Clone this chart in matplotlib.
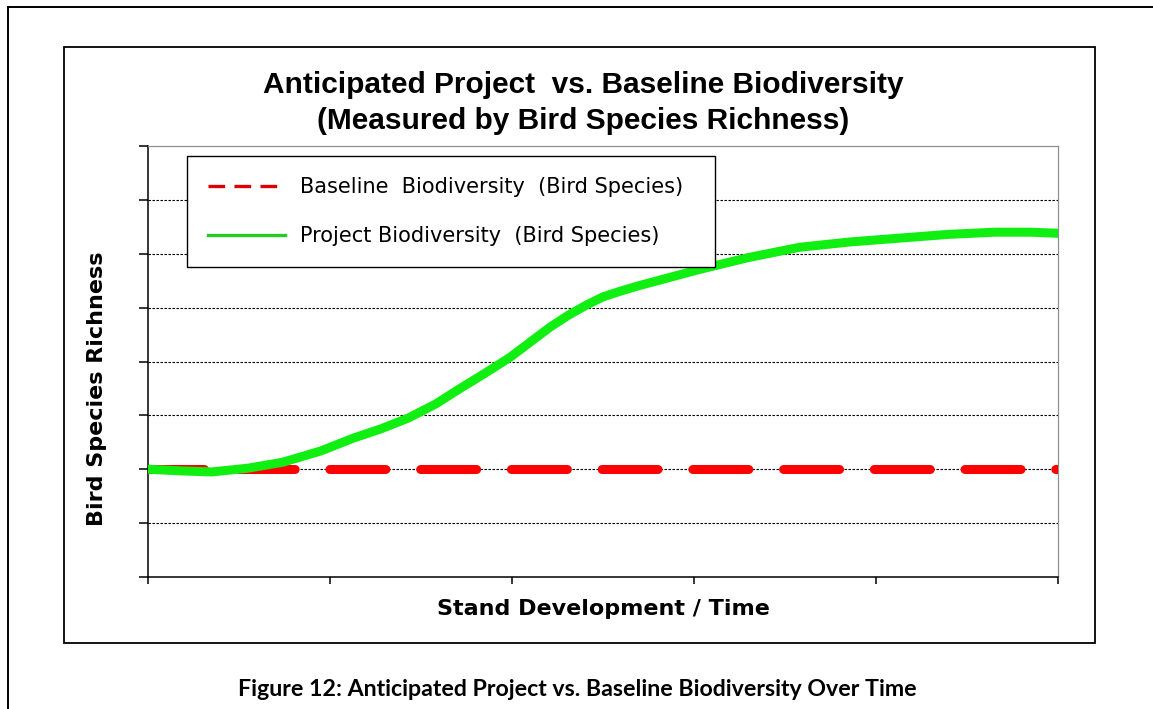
import matplotlib
matplotlib.use("Agg")
from matplotlib import pyplot as plt
from matplotlib.lines import Line2D
from matplotlib.patches import Rectangle

# stand development (x, arbitrary units) and bird species richness (y)
baseline_x = [0, 5]
baseline_y = [2, 2]
project_x = [0, 0.18, 0.35, 0.55, 0.74, 0.95, 1.13, 1.28, 1.43, 1.58, 1.72,
             1.86, 1.99, 2.10, 2.21, 2.31, 2.41, 2.50, 2.60, 2.70, 2.80,
             3.02, 3.30, 3.58, 3.86, 4.13, 4.40, 4.65, 4.85, 5.0]
project_y = [2.0, 1.97, 1.95, 2.02, 2.13, 2.34, 2.58, 2.75, 2.95, 3.21, 3.51,
             3.80, 4.08, 4.36, 4.64, 4.86, 5.05, 5.20, 5.31, 5.41, 5.50,
             5.70, 5.93, 6.12, 6.22, 6.29, 6.36, 6.40, 6.40, 6.38]
x_ticks = [0, 1, 2, 3, 4, 5]
y_ticks = [0, 1, 2, 3, 4, 5, 6, 7, 8]
labels = ["Baseline  Biodiversity  (Bird Species)",
          "Project Biodiversity  (Bird Species)"]

W, H = 1153, 709
fig = plt.figure(figsize=(W / 100, H / 100), dpi=100)


def fx(px):
    return px / W


def fy(py):
    return 1 - py / H


# outer page border and chart frame
fig.add_artist(Line2D([fx(8), fx(8)], [0, fy(7)], color="black", lw=1.4))
fig.add_artist(Line2D([fx(8), 1], [fy(7), fy(7)], color="black", lw=1.4))
fig.add_artist(Rectangle((fx(64), fy(643)), fx(1095) - fx(64), fy(47) - fy(643),
                         fill=False, edgecolor="black", lw=1.3))

ax = fig.add_axes([fx(148), fy(577), fx(1058) - fx(148), fy(146) - fy(577)])
ax.plot(baseline_x, baseline_y, color="#ff0000", lw=6.5, dashes=(6.2, 3.85),
        dash_capstyle="round", zorder=3)
ax.plot(project_x, project_y, color="#11ee11", lw=6.5, solid_capstyle="round",
        solid_joinstyle="round", zorder=4)

ax.set_xlim(0, 5)
ax.set_ylim(0, 8)
ax.set_xticks(x_ticks)
ax.set_yticks(y_ticks)
ax.set_xticklabels([])
ax.set_yticklabels([])
ax.tick_params(axis="y", direction="out", length=6.5, width=1.1)
ax.tick_params(axis="x", direction="out", length=5, width=1.1)
ax.yaxis.grid(True, color="black", lw=0.8, linestyle=(0, (2.2, 1.4)))
gl = ax.get_ygridlines()
gl[0].set_visible(False)
gl[-1].set_visible(False)
ax.set_axisbelow(True)
for s in ["top", "right"]:
    ax.spines[s].set_color("#909090")
    ax.spines[s].set_linewidth(0.9)
for s in ["left", "bottom"]:
    ax.spines[s].set_color("black")
    ax.spines[s].set_linewidth(1.1)

handles = [Line2D([], [], color="#dd0000", lw=2.4, dashes=(5.0, 2.8)),
           Line2D([], [], color="#22cc22", lw=2.4)]
leg = ax.legend(handles, labels, loc="upper left",
                bbox_to_anchor=((187 - 148) / 910, 1 - (156 - 146) / 431 - 0.1,
                                (715 - 187) / 910, 0.1),
                mode="expand", frameon=True, fancybox=False, framealpha=1,
                edgecolor="black", handlelength=3.7, handletextpad=0.7,
                labelspacing=1.4, borderpad=1.0, borderaxespad=0,
                prop={"family": "DejaVu Sans", "size": 15})
leg.get_frame().set_linewidth(1.0)
leg.set_zorder(10)

fig.text(fx(583), fy(85), "Anticipated Project  vs. Baseline Biodiversity",
         ha="center", va="center", fontsize=21.5, fontweight="bold",
         family="Liberation Sans")
fig.text(fx(583), fy(121), "(Measured by Bird Species Richness)",
         ha="center", va="center", fontsize=21.5, fontweight="bold",
         family="Liberation Sans")
fig.text(fx(97), fy(389), "Bird Species Richness", rotation=90,
         ha="center", va="center", fontsize=16, fontweight="bold",
         family="DejaVu Sans")
fig.text(fx(603), fy(609), "Stand Development / Time", ha="center",
         va="center", fontsize=16, fontweight="bold", family="DejaVu Sans")
fig.text(fx(577), fy(690),
         "Figure 12: Anticipated Project vs. Baseline Biodiversity Over Time",
         ha="center", va="center", fontsize=16.7, fontweight="bold",
         family="Lato")

plt.savefig("out.png", dpi=100)
